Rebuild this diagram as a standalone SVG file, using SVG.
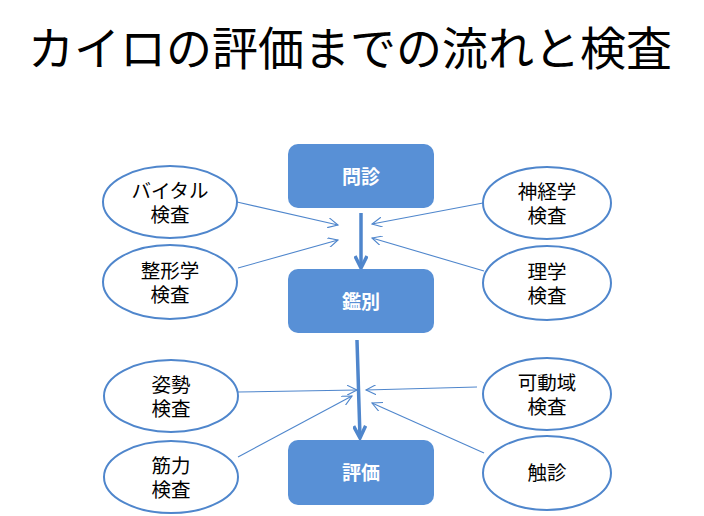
<svg xmlns="http://www.w3.org/2000/svg" width="704" height="516" viewBox="0 0 704 516">
<style>
.box{fill:#5890d6;}
.ell{fill:#fff;stroke:#4f86cc;stroke-width:2;}
.bt{font-family:"Noto Sans CJK JP","Noto Sans",sans-serif;font-size:19px;font-weight:bold;fill:#fff;text-anchor:middle;}
.et{font-family:"Noto Sans CJK JP","Noto Sans",sans-serif;font-size:19.5px;fill:#000;text-anchor:middle;}
.title{font-family:"Noto Sans CJK JP","Noto Sans",sans-serif;font-size:46px;fill:#000;text-anchor:middle;}
.thin{stroke:#4f86cc;stroke-width:1.1;fill:none;marker-end:url(#open);}
.thick{stroke:#4f86cc;stroke-width:3.5;fill:none;marker-end:url(#open2);}
</style>
<defs>
<marker id="open" markerWidth="12" markerHeight="10" refX="10" refY="5" orient="auto" markerUnits="userSpaceOnUse">
<path d="M0,0 L10,5 L0,10" fill="none" stroke="#4f86cc" stroke-width="1.1"/>
</marker>
<marker id="open2" markerWidth="16" markerHeight="14" refX="13" refY="7" orient="auto" markerUnits="userSpaceOnUse">
<path d="M1,1 L13,7 L1,13" fill="none" stroke="#4f86cc" stroke-width="3.5"/>
</marker>
</defs>
<rect width="704" height="516" fill="#fff"/>
<text class="title" x="350" y="65">カイロの評価までの流れと検査</text>

<g id="connectors">
<line class="thick" x1="361" y1="213" x2="361" y2="268"/>
<line class="thick" x1="357" y1="340" x2="360" y2="438"/>
<line class="thin" x1="237" y1="202" x2="338" y2="225"/>
<line class="thin" x1="238" y1="268" x2="338" y2="240"/>
<line class="thin" x1="483" y1="203" x2="372" y2="224"/>
<line class="thin" x1="484" y1="271" x2="372" y2="238"/>
<line class="thin" x1="238" y1="392" x2="357" y2="390"/>
<line class="thin" x1="238" y1="457" x2="352" y2="396"/>
<line class="thin" x1="477" y1="387" x2="366" y2="390"/>
<line class="thin" x1="484" y1="453" x2="372" y2="403"/>
</g>

<g id="monshin"><rect class="box" x="288" y="144" width="146" height="64" rx="10"/><text class="bt" x="361" y="184">問診</text></g>
<g id="kanbetsu"><rect class="box" x="288" y="269" width="146" height="64" rx="10"/><text class="bt" x="361" y="309">鑑別</text></g>
<g id="hyoka"><rect class="box" x="288" y="440" width="146" height="65" rx="10"/><text class="bt" x="361" y="480">評価</text></g>

<g id="vital"><ellipse class="ell" cx="170" cy="202" rx="67" ry="36"/><text class="et" x="170" y="198">バイタル</text><text class="et" x="170" y="222">検査</text></g>
<g id="seikei"><ellipse class="ell" cx="170" cy="282" rx="67" ry="37"/><text class="et" x="170" y="278">整形学</text><text class="et" x="170" y="302">検査</text></g>
<g id="shinkei"><ellipse class="ell" cx="547" cy="203" rx="64" ry="36"/><text class="et" x="547" y="199">神経学</text><text class="et" x="547" y="223">検査</text></g>
<g id="rigaku"><ellipse class="ell" cx="547" cy="283" rx="64" ry="37"/><text class="et" x="547" y="279">理学</text><text class="et" x="547" y="303">検査</text></g>
<g id="shisei"><ellipse class="ell" cx="171" cy="396" rx="67" ry="36"/><text class="et" x="171" y="392">姿勢</text><text class="et" x="171" y="416">検査</text></g>
<g id="kinryoku"><ellipse class="ell" cx="171" cy="477" rx="67" ry="36"/><text class="et" x="171" y="473">筋力</text><text class="et" x="171" y="497">検査</text></g>
<g id="kadoiki"><ellipse class="ell" cx="547" cy="394" rx="64" ry="36"/><text class="et" x="547" y="390">可動域</text><text class="et" x="547" y="414">検査</text></g>
<g id="shokushin"><ellipse class="ell" cx="547" cy="473" rx="64" ry="37"/><text class="et" x="547" y="480">触診</text></g>
</svg>
